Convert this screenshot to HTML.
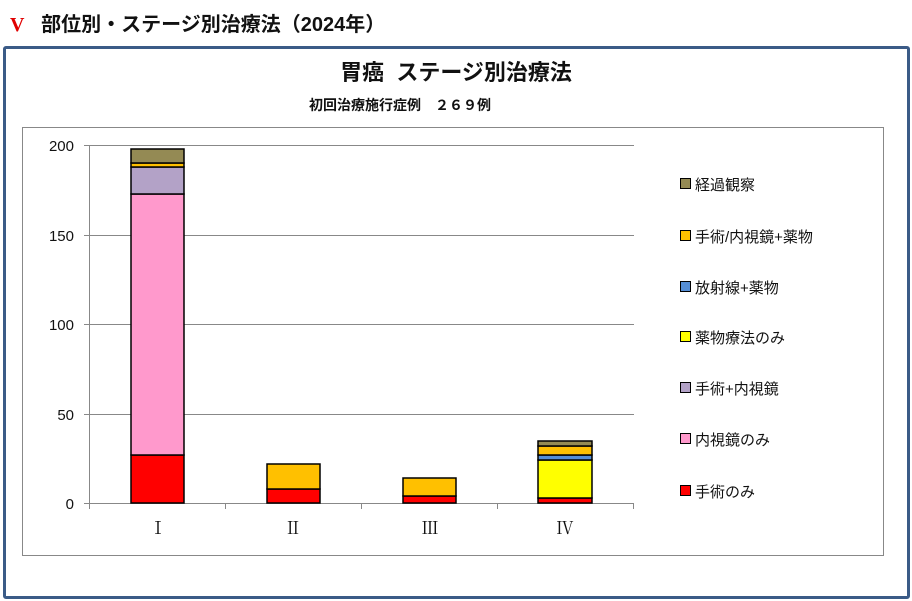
<!DOCTYPE html>
<html><head><meta charset="utf-8"><style>
body{margin:0;background:#fff;width:912px;height:601px;overflow:hidden;position:relative;font-family:"Liberation Sans","Noto Sans CJK JP",sans-serif}
.h{position:absolute;top:8px;left:10px;font-size:20px;font-weight:bold;color:#111}
.frame{position:absolute;left:3px;top:46px;width:901px;height:547px;border:3px solid #3b5b87;border-radius:3px}
</style></head><body>
<div class="h"><span style="color:#e00000;font-family:'Liberation Serif',serif">V</span>&nbsp;&nbsp;&nbsp;部位別・ステージ別治療法（2024年）</div>
<div class="frame"></div>
<svg width="912" height="601" style="position:absolute;left:0;top:0" font-family="Liberation Sans, Noto Sans CJK JP, sans-serif">
<text x="456" y="80" font-size="22" font-weight="bold" text-anchor="middle" fill="#111">胃癌&#160;&#160;ステージ別治療法</text>
<text x="400" y="110" font-size="14" font-weight="bold" text-anchor="middle" fill="#111">初回治療施行症例　２６９例</text>
<rect x="22.5" y="127.5" width="861" height="428" fill="none" stroke="#888"/>
<g stroke="#888" stroke-width="1">
<line x1="84" y1="145.5" x2="634" y2="145.5"/><line x1="84" y1="235.5" x2="634" y2="235.5"/>
<line x1="84" y1="324.5" x2="634" y2="324.5"/><line x1="84" y1="414.5" x2="634" y2="414.5"/>
<line x1="84" y1="503.5" x2="634" y2="503.5"/><line x1="89.5" y1="145" x2="89.5" y2="503"/>
<line x1="225.5" y1="503" x2="225.5" y2="509"/><line x1="361.5" y1="503" x2="361.5" y2="509"/>
<line x1="497.5" y1="503" x2="497.5" y2="509"/><line x1="633.5" y1="503" x2="633.5" y2="509"/>
<line x1="89.5" y1="503" x2="89.5" y2="509"/>
</g>
<g font-size="15" fill="#111" text-anchor="end">
<text x="74" y="151">200</text><text x="74" y="241">150</text><text x="74" y="330">100</text><text x="74" y="420">50</text><text x="74" y="509">0</text>
</g>
<g stroke="#000" stroke-width="1.5">
<rect x="131" y="455" width="53" height="48" fill="#ff0000"/>
<rect x="131" y="194" width="53" height="261" fill="#ff99cc"/>
<rect x="131" y="167" width="53" height="27" fill="#b3a2c7"/>
<rect x="131" y="163" width="53" height="4" fill="#ffc000"/>
<rect x="131" y="149" width="53" height="14" fill="#948a54"/>
<rect x="267" y="489" width="53" height="14" fill="#ff0000"/>
<rect x="267" y="464" width="53" height="25" fill="#ffc000"/>
<rect x="403" y="496" width="53" height="7" fill="#ff0000"/>
<rect x="403" y="478" width="53" height="18" fill="#ffc000"/>
<rect x="538" y="498" width="54" height="5" fill="#ff0000"/>
<rect x="538" y="460" width="54" height="38" fill="#ffff00"/>
<rect x="538" y="455" width="54" height="5" fill="#558ed5"/>
<rect x="538" y="446" width="54" height="9" fill="#ffc000"/>
<rect x="538" y="441" width="54" height="5" fill="#948a54"/>
</g>
<g font-family="Liberation Serif, Noto Serif CJK SC, serif" font-size="17" fill="#111" text-anchor="middle">
<text x="158" y="534">Ⅰ</text><text x="293" y="534">Ⅱ</text><text x="430" y="534">Ⅲ</text><text x="565" y="534">Ⅳ</text>
</g>
<g stroke="#000" stroke-width="1">
<rect x="680.5" y="178.5" width="10" height="10" fill="#948a54"/>
<rect x="680.5" y="230.5" width="10" height="10" fill="#ffc000"/>
<rect x="680.5" y="281.5" width="10" height="10" fill="#558ed5"/>
<rect x="680.5" y="331.5" width="10" height="10" fill="#ffff00"/>
<rect x="680.5" y="382.5" width="10" height="10" fill="#b3a2c7"/>
<rect x="680.5" y="433.5" width="10" height="10" fill="#ff99cc"/>
<rect x="680.5" y="485.5" width="10" height="10" fill="#ff0000"/>
</g>
<g font-size="15" fill="#111">
<text x="695" y="190">経過観察</text><text x="695" y="242">手術/内視鏡+薬物</text>
<text x="695" y="293">放射線+薬物</text><text x="695" y="343">薬物療法のみ</text>
<text x="695" y="394">手術+内視鏡</text><text x="695" y="445">内視鏡のみ</text>
<text x="695" y="497">手術のみ</text>
</g>
</svg>
</body></html>
